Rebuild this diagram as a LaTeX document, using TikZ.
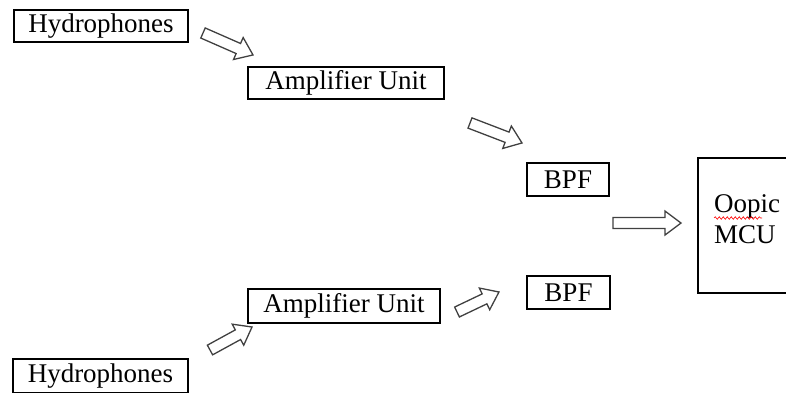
\documentclass[tikz,border=0pt]{standalone}
\usepackage{fontspec}
\setmainfont{Liberation Serif}
\usetikzlibrary{calc, decorations.pathmorphing}

\tikzset{
  unit/.style={draw, line width=1.1pt, inner sep=0pt, font=\fontsize{27}{31}\selectfont},
  pics/barrow/.style={code={
    \draw[line width=1.3pt, black!75, line join=miter]
      (0,5.5)--(#1-16,5.5)--(#1-16,12)--(#1,0)--(#1-16,-12)--(#1-16,-5.5)--(0,-5.5)--cycle;
  }}
}

\begin{document}
\begin{tikzpicture}[x=1pt, y=1pt]
			\useasboundingbox (0,0) rectangle (786,-392);
			
			\node[unit, minimum width=174, minimum height=32] (hydA) at (101,-26) {Hydrophones};
			\node[unit, minimum width=196, minimum height=32] (ampA) at (346,-83) {Amplifier Unit};
			\node[unit, minimum width=82, minimum height=33] (bpfA) at (568,-179.5) {BPF};
			\node[unit, minimum width=83, minimum height=33] (bpfB) at (568.5,-292.5) {BPF};
			\node[unit, minimum width=192, minimum height=34] (ampB) at (344,-306) {Amplifier Unit};
			\node[unit, minimum width=175, minimum height=34] (hydB) at (100.5,-376) {Hydrophones};
			\node[unit, minimum width=110, minimum height=135] (mcu) at (753,-225.5) {};
			\node[font=\fontsize{27}{31}\selectfont, align=left, inner sep=0pt, anchor=base west] (mcutext) at (714,-243) {Oopic\\MCU};
			
			\coordinate (oopic) at (714,-218);
			\draw[red, line width=0.6pt, decorate, decoration={snake, amplitude=1.3pt, segment length=4pt}] (oopic) -- ++(48,0);
			
			\pic[rotate=-23.7] at (203,-33) {barrow=54.6};
			\pic[rotate=-21] at (470,-123) {barrow=55.7};
			\pic at (613,-223) {barrow=68};
			\pic[rotate=28.7] at (210,-350) {barrow=47.9};
			\pic[rotate=25.5] at (457,-312) {barrow=46.5};
			\end{tikzpicture}
\end{document}
